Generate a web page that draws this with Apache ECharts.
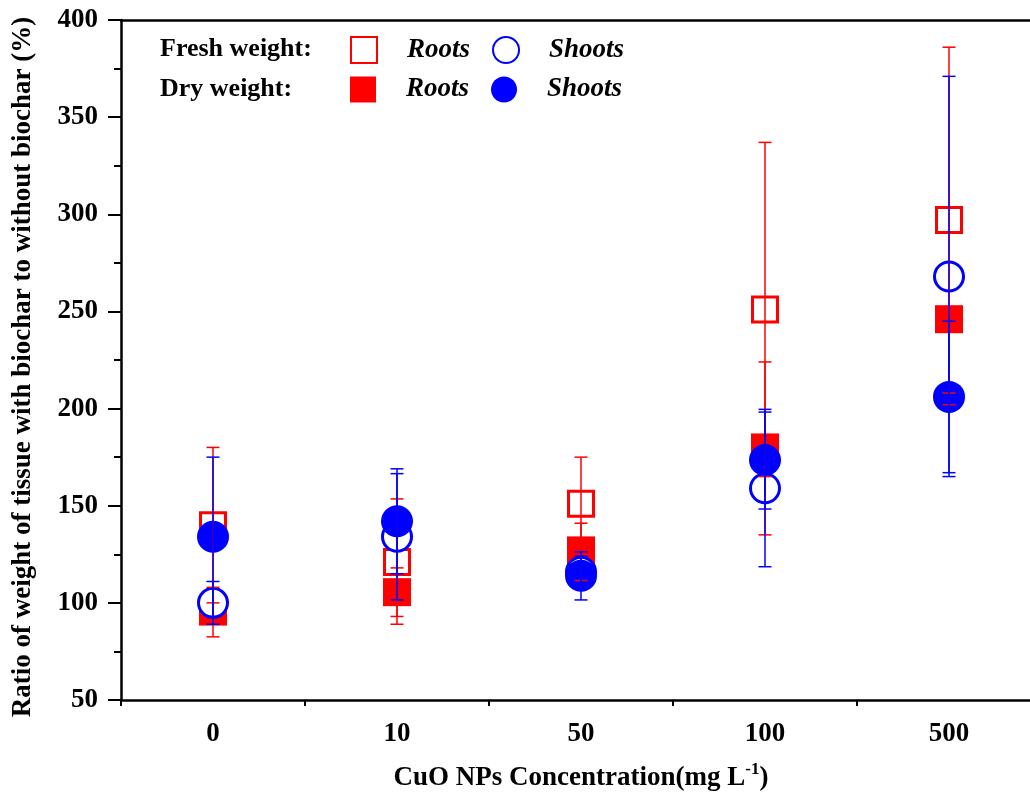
<!DOCTYPE html>
<html>
<head>
<meta charset="utf-8">
<script src="https://cdn.jsdelivr.net/npm/echarts@6/dist/echarts.min.js"></script>
<style>
  html, body { margin: 0; padding: 0; background: #fff; overflow: hidden; }
  /* the plot frame runs past the right edge of the picture, so the canvas is a bit wider than the window */
  #chart { width: 1050px; height: 800px; }
</style>
</head>
<body>
<div id="chart"></div>
<script>
// CuO NPs concentration (mg/L)
const categories = ['0', '10', '50', '100', '500'];
const yTicks = [50, 100, 150, 200, 250, 300, 350, 400];

// values: mean, lower end and upper end of error bar
const freshRoots = [140, 121, 151, 251, 297];
const freshRootsLo = [100, 89, 127, 165, 208];
const freshRootsHi = [180, 153.5, 175, 337, 386];

const freshShoots = [100, 134, 116, 159, 268];
const freshShootsLo = [89, 101.5, 108, 118.6, 165];
const freshShootsHi = [111, 166.5, 124, 199.6, 371];

const dryRoots = [95.5, 105.5, 127, 180, 246];
const dryRootsLo = [82.5, 93, 111.5, 135, 202];
const dryRootsHi = [108, 118, 141, 224, 250];

const dryShoots = [134, 142, 114, 173.5, 206];
const dryShootsLo = [93, 115, 101.5, 148.3, 167];
const dryShootsHi = [175, 169, 126.2, 198.2, 245];

const RED = '#ff0000';
const BLUE = '#0000ff';
const FONT = '"Liberation Serif", "Times New Roman", serif';

function errData(lo, hi) {
    return lo.map((v, i) => [i, v, hi[i]]);
}

function errorBars(name, lo, hi, color, z) {
    return {
        name: name + ' err',
        type: 'custom',
        z: z,
        silent: true,
        data: errData(lo, hi),
        encode: {x: 0, y: [1, 2]},
        renderItem: function (params, api) {
            const i = api.value(0);
            const a = api.coord([i, api.value(1)]);
            const b = api.coord([i, api.value(2)]);
            const half = 6.5;
            const st = {stroke: color, lineWidth: 1.5};
            return {
                type: 'group',
                children: [
                    {type: 'line', shape: {x1: a[0], y1: a[1], x2: b[0], y2: b[1]}, style: st},
                    {type: 'line', shape: {x1: a[0] - half, y1: a[1], x2: a[0] + half, y2: a[1]}, style: st},
                    {type: 'line', shape: {x1: b[0] - half, y1: b[1], x2: b[0] + half, y2: b[1]}, style: st}
                ]
            };
        }
    };
}

let chartDom = document.getElementById('chart');
let myChart = echarts.init(chartDom, null, {renderer: 'canvas'});

const legendText = {fontFamily: FONT, fontSize: 27, fontWeight: 'bold', fontStyle: 'italic', color: '#000', padding: [0, 0, 0, 25]};

const option = {
    animation: false,
    backgroundColor: '#fff',
    textStyle: {fontFamily: FONT},
    grid: {
        left: 121, top: 20, width: 920, height: 680
    },
    graphic: [
        {type: 'text', left: 160, top: 36, style: {text: 'Fresh weight:', font: 'bold 26px ' + FONT, fill: '#000'}},
        {type: 'text', left: 160, top: 76, style: {text: 'Dry weight:', font: 'bold 26px ' + FONT, fill: '#000'}}
    ],
    legend: [
        {
            data: ['Fresh roots', 'Fresh shoots'],
            left: 350, top: 36, padding: 0,
            itemWidth: 26, itemHeight: 26, itemGap: 22,
            formatter: n => n.indexOf('roots') >= 0 ? 'Roots' : 'Shoots',
            textStyle: legendText
        },
        {
            data: ['Dry roots', 'Dry shoots'],
            left: 350, top: 76, padding: 0,
            itemWidth: 26, itemHeight: 26, itemGap: 22,
            formatter: n => n.indexOf('roots') >= 0 ? 'Roots' : 'Shoots',
            textStyle: legendText
        }
    ],
    xAxis: [
        {
            type: 'category',
            data: categories,
            position: 'bottom',
            boundaryGap: true,
            axisLine: {lineStyle: {color: '#000', width: 2.5}},
            axisTick: {alignWithLabel: true, length: 13, lineStyle: {color: '#000', width: 2}},
            axisLabel: {color: '#000', fontFamily: FONT, fontSize: 27, fontWeight: 'bold', margin: 21},
            splitLine: {show: false},
            name: 'CuO NPs Concentration(mg L{sup|-1})',
            nameLocation: 'middle',
            nameGap: 61,
            nameTextStyle: {
                color: '#000', fontFamily: FONT, fontSize: 27, fontWeight: 'bold',
                rich: {sup: {fontFamily: FONT, fontSize: 17, fontWeight: 'bold', color: '#000', padding: [0, 0, 18, 0]}}
            }
        },
        {
            // minor ticks at the category boundaries
            type: 'category',
            data: categories,
            position: 'bottom',
            boundaryGap: true,
            axisLine: {show: false},
            axisTick: {show: true, length: 6, lineStyle: {color: '#000', width: 2}},
            axisLabel: {show: false},
            splitLine: {show: false}
        },
        {
            // top frame line
            type: 'category',
            data: categories,
            position: 'top',
            axisLine: {show: true, lineStyle: {color: '#000', width: 2.5}},
            axisTick: {show: false},
            axisLabel: {show: false},
            splitLine: {show: false}
        }
    ],
    yAxis: {
        type: 'value',
        min: yTicks[0],
        max: yTicks[yTicks.length - 1],
        interval: 50,
        axisLine: {show: true, lineStyle: {color: '#000', width: 2.5}},
        axisTick: {show: true, length: 13, lineStyle: {color: '#000', width: 2}},
        minorTick: {show: true, splitNumber: 2, length: 7, lineStyle: {color: '#000', width: 2}},
        axisLabel: {color: '#000', fontFamily: FONT, fontSize: 27, fontWeight: 'bold', margin: 23},
        splitLine: {show: false},
        name: 'Ratio of weight of tissue with biochar to without biochar (%)',
        nameLocation: 'middle',
        nameGap: 84,
        nameTextStyle: {color: '#000', fontFamily: FONT, fontSize: 27, fontWeight: 'bold', padding: [0, 14, 0, 0]}
    },
    series: [
        {
            name: 'Fresh roots', type: 'scatter', z: 2,
            symbol: 'rect', symbolSize: 25,
            itemStyle: {color: '#fff', borderColor: RED, borderWidth: 3, opacity: 1},
            data: freshRoots
        },
        {
            name: 'Dry roots', type: 'scatter', z: 2,
            symbol: 'rect', symbolSize: 28,
            itemStyle: {color: RED, opacity: 1},
            data: dryRoots
        },
        {
            name: 'Fresh shoots', type: 'scatter', z: 2,
            symbol: 'circle', symbolSize: 29,
            itemStyle: {color: '#fff', borderColor: BLUE, borderWidth: 3, opacity: 1},
            data: freshShoots
        },
        {
            name: 'Dry shoots', type: 'scatter', z: 2,
            symbol: 'circle', symbolSize: 32,
            itemStyle: {color: BLUE, opacity: 1},
            data: dryShoots
        },
        errorBars('Fresh roots', freshRootsLo, freshRootsHi, RED, 3),
        errorBars('Dry roots', dryRootsLo, dryRootsHi, RED, 3),
        errorBars('Fresh shoots', freshShootsLo, freshShootsHi, BLUE, 4),
        errorBars('Dry shoots', dryShootsLo, dryShootsHi, BLUE, 4)
    ]
};

myChart.setOption(option);
</script>
</body>
</html>
